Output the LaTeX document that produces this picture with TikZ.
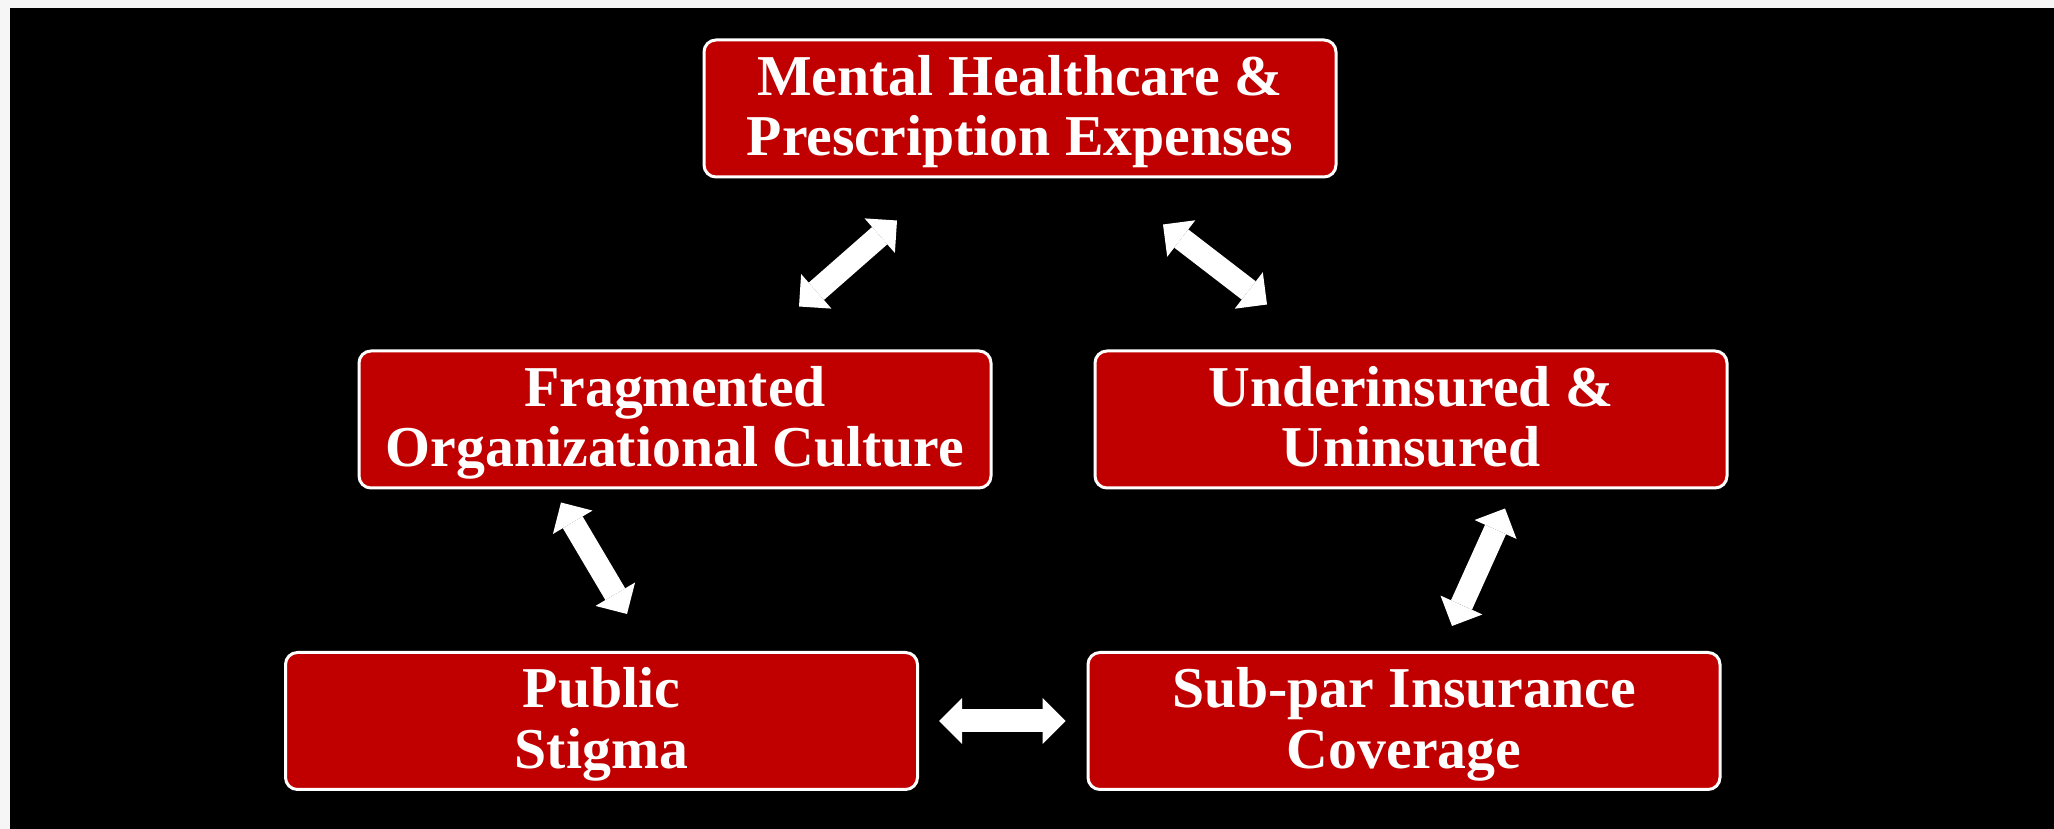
\documentclass[tikz,border=0pt]{standalone}
\usepackage{fontspec}
\setmainfont{Liberation Serif}
\usetikzlibrary{arrows.meta}
\definecolor{boxred}{HTML}{C00000}
\definecolor{paper}{HTML}{F6F6F6}
\begin{document}
\begin{tikzpicture}[
  box/.style={draw=white,line width=3bp,fill=boxred,rectangle,rounded corners=12bp,
    minimum width=632bp,minimum height=137bp,align=center,text=white,
    font=\fontsize{58}{61}\selectfont\bfseries,
    inner ysep=0bp,text height=115bp,text depth=20bp},
  dblarrow/.style={draw=white,line width=23bp,
    {Triangle[length=23bp,width=46bp,line width=0bp]}-{Triangle[length=23bp,width=46bp,line width=0bp]}},
]
%%
\fill [paper] (0bp,0bp) rectangle (2054bp,829bp);
\fill [black] (10bp,0bp) rectangle (2054bp,821bp);
\useasboundingbox (0bp,0bp) rectangle (2054bp,829bp);
%
  \node (expenses) at (1020bp,720.5bp) [box] {Mental Healthcare \&\\Prescription Expenses};
  \node (culture) at (675bp,409.5bp) [box] {Fragmented\\Organizational Culture};
  \node (uninsured) at (1411bp,409.5bp) [box] {Underinsured \&\\Uninsured};
  \node (stigma) at (601.5bp,108bp) [box] {Public\\Stigma};
  \node (coverage) at (1404bp,108bp) [box] {Sub-par Insurance\\Coverage};
  \draw [dblarrow] ([shift={(124bp,43bp)}]culture.north) -- ([shift={(-123bp,-42bp)}]expenses.south);
  \draw [dblarrow] ([shift={(-144bp,45bp)}]uninsured.north) -- ([shift={(143bp,-46bp)}]expenses.south);
  \draw [dblarrow] ([shift={(-114bp,-13bp)}]culture.south) -- ([shift={(25.5bp,37bp)}]stigma.north);
  \draw [dblarrow] ([shift={(94bp,-19bp)}]uninsured.south) -- ([shift={(48bp,25bp)}]coverage.north);
  \draw [dblarrow] ([xshift=20bp]stigma.east) -- ([xshift=-21bp]coverage.west);
%
\end{tikzpicture}
\end{document}
